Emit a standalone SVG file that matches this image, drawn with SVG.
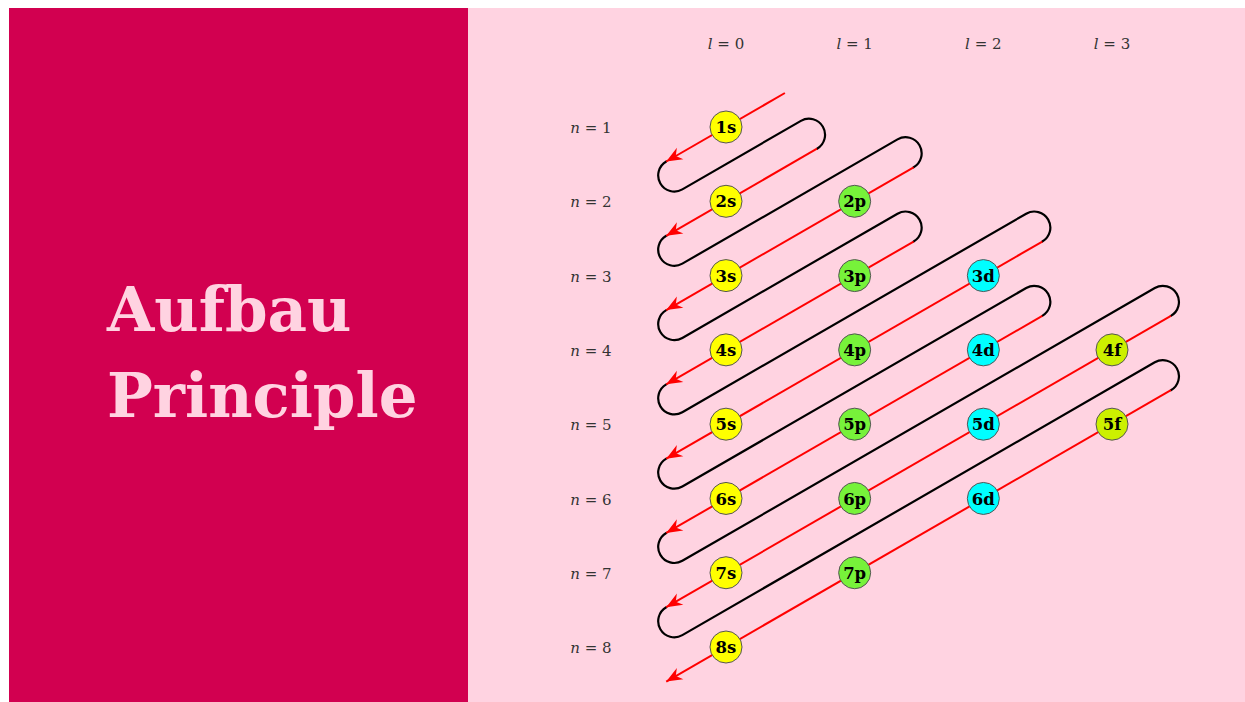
<svg xmlns="http://www.w3.org/2000/svg" width="1245" height="702" viewBox="0 0 1245 702">
<style>
.title{font-family:"DejaVu Serif","Liberation Serif",serif;font-weight:bold;font-size:61px;fill:#FFD3E1}
.lab{font-family:"DejaVu Serif","Liberation Serif",serif;font-size:15px;fill:#333;text-anchor:middle}
.red{fill:none;stroke:#FF0000;stroke-width:2}
.blk{fill:none;stroke:#000;stroke-width:2.2;stroke-linecap:round}
.nd circle{stroke:#555;stroke-width:1}
.nd text{font-family:"DejaVu Serif","Liberation Serif",serif;font-weight:bold;font-size:16.5px;fill:#000;text-anchor:middle}
.s circle{fill:#FFFF00}.p circle{fill:#77F23A}.d circle{fill:#00FFFF}.f circle{fill:#CCF000}
</style>
<defs>
<marker id="ah" markerUnits="userSpaceOnUse" viewBox="-18 -8 20 16" refX="0" refY="0" markerWidth="20" markerHeight="16" orient="auto" overflow="visible">
<path d="M0,0 L-16,-6.5 L-11,0 L-16,6.5 Z" fill="#FF0000"/>
</marker>
</defs>
<rect x="0" y="0" width="1245" height="702" fill="#FFFFFF"/>
<rect x="9" y="8" width="459" height="694" fill="#D20050"/>
<rect x="468" y="8" width="777" height="694" fill="#FFD3E1"/>
<text class="title" x="107" y="331">Aufbau</text>
<text class="title" x="107" y="417">Principle</text>
<g id="col-labels" class="lab">
<text x="726" y="49"><tspan font-style="italic">l</tspan> = 0</text>
<text x="854.7" y="49"><tspan font-style="italic">l</tspan> = 1</text>
<text x="983.3" y="49"><tspan font-style="italic">l</tspan> = 2</text>
<text x="1112" y="49"><tspan font-style="italic">l</tspan> = 3</text>
</g>
<g id="row-labels" class="lab">
<text x="591" y="133"><tspan font-style="italic">n</tspan> = 1</text>
<text x="591" y="207.3"><tspan font-style="italic">n</tspan> = 2</text>
<text x="591" y="281.6"><tspan font-style="italic">n</tspan> = 3</text>
<text x="591" y="355.9"><tspan font-style="italic">n</tspan> = 4</text>
<text x="591" y="430.2"><tspan font-style="italic">n</tspan> = 5</text>
<text x="591" y="504.5"><tspan font-style="italic">n</tspan> = 6</text>
<text x="591" y="578.7"><tspan font-style="italic">n</tspan> = 7</text>
<text x="591" y="653"><tspan font-style="italic">n</tspan> = 8</text>
</g>
<g id="connectors">
<path class="blk" d="M666.25,161.5 A16.085,16.085 0 0 0 682.34,189.36 L800.91,120.88 A16.085,16.085 0 0 1 817.0,148.74"/>
<path class="blk" d="M666.25,235.79 A16.085,16.085 0 0 0 682.34,263.65 L897.51,139.42 A16.085,16.085 0 0 1 913.6,167.28"/>
<path class="blk" d="M666.25,310.08 A16.085,16.085 0 0 0 682.34,337.94 L897.51,213.71 A16.085,16.085 0 0 1 913.6,241.57"/>
<path class="blk" d="M666.25,384.37 A16.085,16.085 0 0 0 682.34,412.23 L1026.21,213.70 A16.085,16.085 0 0 1 1042.3,241.56"/>
<path class="blk" d="M666.25,458.66 A16.085,16.085 0 0 0 682.34,486.52 L1026.21,287.99 A16.085,16.085 0 0 1 1042.3,315.85"/>
<path class="blk" d="M666.25,532.95 A16.085,16.085 0 0 0 682.34,560.81 L1154.81,288.03 A16.085,16.085 0 0 1 1170.9,315.89"/>
<path class="blk" d="M666.25,607.24 A16.085,16.085 0 0 0 682.34,635.10 L1154.81,362.32 A16.085,16.085 0 0 1 1170.9,390.18"/>
<path class="red" marker-end="url(#ah)" d="M784.9,93.0 L666.25,161.5"/>
<path class="red" marker-end="url(#ah)" d="M817.0,148.74 L666.25,235.79"/>
<path class="red" marker-end="url(#ah)" d="M913.6,167.28 L666.25,310.08"/>
<path class="red" marker-end="url(#ah)" d="M913.6,241.57 L666.25,384.37"/>
<path class="red" marker-end="url(#ah)" d="M1042.3,241.56 L666.25,458.66"/>
<path class="red" marker-end="url(#ah)" d="M1042.3,315.85 L666.25,532.95"/>
<path class="red" marker-end="url(#ah)" d="M1170.9,315.89 L666.25,607.24"/>
<path class="red" marker-end="url(#ah)" d="M1170.9,390.18 L666.25,681.53"/>
</g>
<g id="n1s" class="nd s"><circle cx="726" cy="127" r="16"/><text x="726" y="133">1s</text></g>
<g id="n2s" class="nd s"><circle cx="726" cy="201.29" r="16"/><text x="726" y="207.3">2s</text></g>
<g id="n2p" class="nd p"><circle cx="854.67" cy="201.29" r="16"/><text x="854.67" y="207.3">2p</text></g>
<g id="n3s" class="nd s"><circle cx="726" cy="275.58" r="16"/><text x="726" y="281.6">3s</text></g>
<g id="n3p" class="nd p"><circle cx="854.67" cy="275.58" r="16"/><text x="854.67" y="281.6">3p</text></g>
<g id="n3d" class="nd d"><circle cx="983.33" cy="275.58" r="16"/><text x="983.33" y="281.6">3d</text></g>
<g id="n4s" class="nd s"><circle cx="726" cy="349.87" r="16"/><text x="726" y="355.9">4s</text></g>
<g id="n4p" class="nd p"><circle cx="854.67" cy="349.87" r="16"/><text x="854.67" y="355.9">4p</text></g>
<g id="n4d" class="nd d"><circle cx="983.33" cy="349.87" r="16"/><text x="983.33" y="355.9">4d</text></g>
<g id="n4f" class="nd f"><circle cx="1112" cy="349.87" r="16"/><text x="1112" y="355.9">4f</text></g>
<g id="n5s" class="nd s"><circle cx="726" cy="424.16" r="16"/><text x="726" y="430.2">5s</text></g>
<g id="n5p" class="nd p"><circle cx="854.67" cy="424.16" r="16"/><text x="854.67" y="430.2">5p</text></g>
<g id="n5d" class="nd d"><circle cx="983.33" cy="424.16" r="16"/><text x="983.33" y="430.2">5d</text></g>
<g id="n5f" class="nd f"><circle cx="1112" cy="424.16" r="16"/><text x="1112" y="430.2">5f</text></g>
<g id="n6s" class="nd s"><circle cx="726" cy="498.45" r="16"/><text x="726" y="504.5">6s</text></g>
<g id="n6p" class="nd p"><circle cx="854.67" cy="498.45" r="16"/><text x="854.67" y="504.5">6p</text></g>
<g id="n6d" class="nd d"><circle cx="983.33" cy="498.45" r="16"/><text x="983.33" y="504.5">6d</text></g>
<g id="n7s" class="nd s"><circle cx="726" cy="572.74" r="16"/><text x="726" y="578.7">7s</text></g>
<g id="n7p" class="nd p"><circle cx="854.67" cy="572.74" r="16"/><text x="854.67" y="578.7">7p</text></g>
<g id="n8s" class="nd s"><circle cx="726" cy="647.03" r="16"/><text x="726" y="653">8s</text></g>
</svg>
